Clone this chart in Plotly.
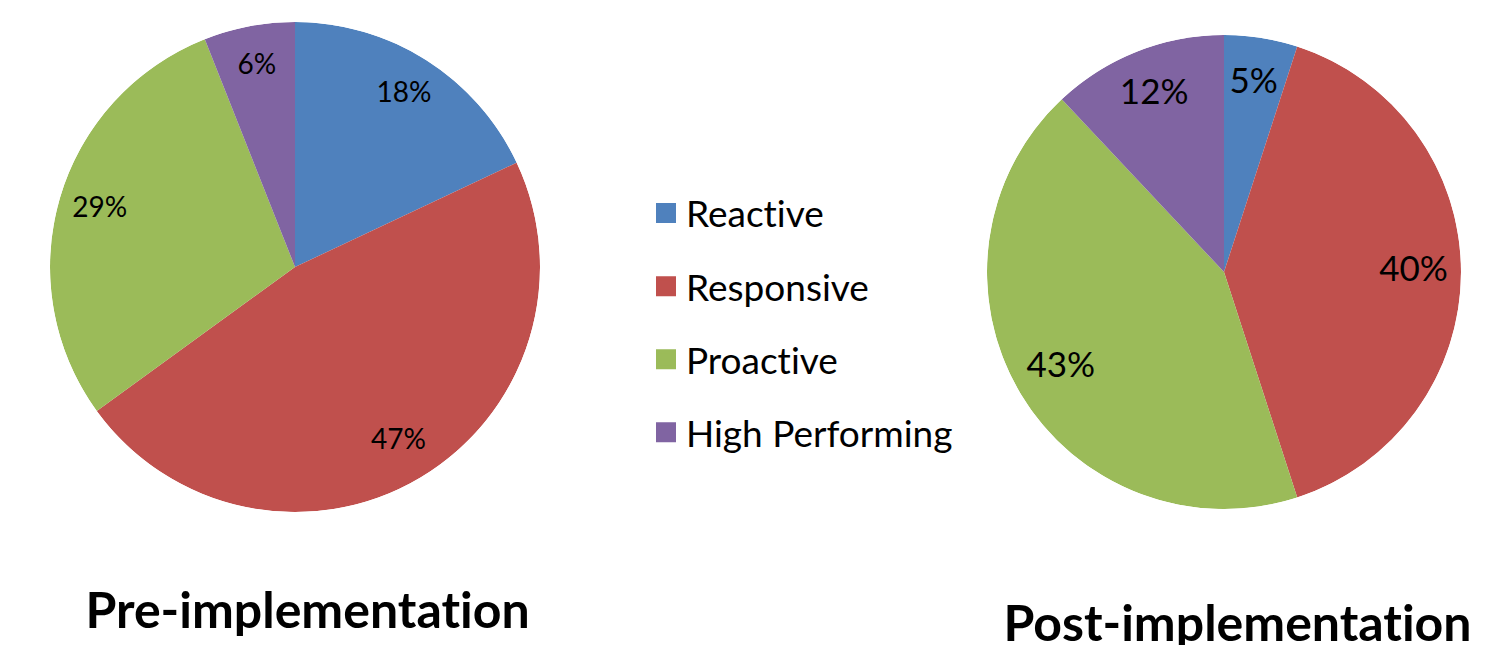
import plotly.graph_objects as go

categories = ["Reactive", "Responsive", "Proactive", "High Performing"]
pre_values = [18, 47, 29, 6]
post_values = [5, 40, 43, 12]
colors = ["#4F81BD", "#C0504D", "#9BBB59", "#8064A2"]
titles = ["Pre-implementation", "Post-implementation"]

FONT = "Lato"


def wedge_geometry(values):
    total = sum(values)
    widths, mids = [], []
    cum = 0
    for v in values:
        w = v / total * 360.0
        widths.append(w)
        mids.append(cum + w / 2)
        cum += w
    return widths, mids


fig = go.Figure()

for subplot, values, label_r, label_size in [
    ("polar", pre_values, 0.83, 28),
    ("polar2", post_values, 0.80, 35),
]:
    widths, mids = wedge_geometry(values)
    fig.add_trace(go.Barpolar(
        r=[1] * len(values), theta=mids, width=widths, base=0,
        marker=dict(color=colors, line=dict(width=0)),
        subplot=subplot, showlegend=False, hoverinfo="skip",
    ))
    fig.add_trace(go.Scatterpolar(
        r=[label_r] * len(values), theta=mids, mode="text",
        text=[f"{v}%" for v in values],
        textfont=dict(family=FONT, size=label_size, color="#000000"),
        subplot=subplot, showlegend=False, hoverinfo="skip",
    ))

# legend entries
for cat, col in zip(categories, colors):
    fig.add_trace(go.Scatterpolar(
        r=[None], theta=[None], mode="markers", name=cat,
        marker=dict(symbol="square", size=16, color=col, line=dict(color=col, width=4)),
        subplot="polar", legendgroup=cat, showlegend=True,
    ))

polar_common = dict(
    bgcolor="rgba(0,0,0,0)",
    bargap=0,
    hole=0,
    radialaxis=dict(range=[0, 1], visible=False),
    angularaxis=dict(rotation=90, direction="clockwise", visible=False),
)

W, H = 1510, 645
fig.update_layout(
    width=W, height=H,
    margin=dict(l=0, r=0, t=0, b=0),
    paper_bgcolor="white",
    plot_bgcolor="white",
    polar=dict(domain=dict(x=[50 / W, 540 / W], y=[(H - 512) / H, (H - 22) / H]), **polar_common),
    polar2=dict(domain=dict(x=[987 / W, 1461 / W], y=[(H - 509) / H, (H - 35) / H]), **polar_common),
    showlegend=True,
    legend=dict(
        x=646 / W, xanchor="left", y=(H - 323) / H, yanchor="middle",
        font=dict(family=FONT, size=37, color="#000000"),
        traceorder="grouped", tracegroupgap=22,
        bgcolor="rgba(0,0,0,0)", itemsizing="trace",
    ),
    annotations=[
        dict(text=f"<b>{titles[0]}</b>", x=307 / W, y=(H - 609) / H, xref="paper", yref="paper",
             xanchor="center", yanchor="middle", showarrow=False,
             font=dict(family=FONT, size=50, color="#000000")),
        dict(text=f"<b>{titles[1]}</b>", x=1237 / W, y=(H - 622) / H, xref="paper", yref="paper",
             xanchor="center", yanchor="middle", showarrow=False,
             font=dict(family=FONT, size=50, color="#000000")),
    ],
)

no_ligatures = (
    "var s=document.createElement('style');"
    "s.textContent='svg text{font-variant-ligatures:none !important;font-feature-settings:\"liga\" 0 !important;}';"
    "document.head.appendChild(s);"
)
fig.write_html("out.html", post_script=no_ligatures)
